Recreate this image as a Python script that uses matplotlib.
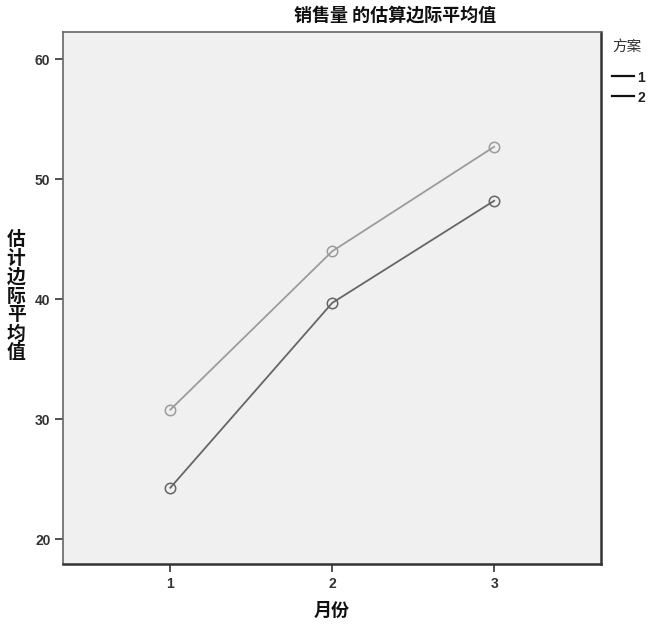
import matplotlib
matplotlib.use("Agg")
import matplotlib.pyplot as plt
from matplotlib.lines import Line2D

months = [1, 2, 3]
plan1 = [24.3, 39.7, 48.2]
plan2 = [30.8, 44.0, 52.7]
series_labels = ["1", "2"]
yticks = [20, 30, 40, 50, 60]

cjk = ["Noto Sans CJK SC", "DejaVu Sans"]
num = ["Liberation Sans", "DejaVu Sans"]

W, H = 650, 627
fig = plt.figure(figsize=(W / 100, H / 100), dpi=100)
fig.patch.set_facecolor("white")
ax = fig.add_axes([63 / W, 1 - 564 / H, (601 - 63) / W, (564 - 31.5) / H])
ax.set_facecolor("#f0f0f0")

c1, c2 = "#666666", "#9c9c9c"
ax.plot(months, plan1, color=c1, lw=1.3, marker="o", ms=7.5, mfc="none", mec=c1, mew=1.1)
ax.plot(months, plan2, color=c2, lw=1.3, marker="o", ms=7.5, mfc="none", mec=c2, mew=1.1)

ax.set_xlim(0.337, 3.66)
ax.set_ylim(17.95, 62.3)
ax.set_xticks(months)
ax.set_xticklabels([str(m) for m in months], family=num, fontsize=10, fontweight="bold", color="#333333")
ax.set_yticks(yticks)
ax.set_yticklabels([str(v) for v in yticks], family=num, fontsize=10, fontweight="bold", color="#333333")
ax.tick_params(length=6, width=1.2, color="#333333", pad=3)

for s in ["left", "top"]:
    ax.spines[s].set_color("#666666")
    ax.spines[s].set_linewidth(1.2)
for s in ["right", "bottom"]:
    ax.spines[s].set_color("#333333")
    ax.spines[s].set_linewidth(1.8)

fig.text(395 / W, 1 - 15 / H, "销售量 的估算边际平均值", family=cjk, fontsize=13,
         fontweight="bold", ha="center", va="center", color="#111111")
fig.text(332 / W, 1 - 610 / H, "月份", family=cjk, fontsize=13,
         fontweight="bold", ha="center", va="center", color="#111111")
fig.text(16 / W, 1 - 296 / H, "\n".join("估计边际平均值"), family=cjk, fontsize=13.5,
         fontweight="bold", ha="center", va="center", color="#111111", linespacing=1.0)

# legend
fig.text(612 / W, 1 - 47 / H, "方案", family=cjk, fontsize=10.5,
         ha="left", va="center", color="#333333")
for yy, lab in zip([76, 96], series_labels):
    fig.add_artist(Line2D([612 / W, 634 / W], [1 - yy / H, 1 - yy / H], color="#111111", lw=1.6))
    fig.text(637 / W, 1 - (yy + 2) / H, lab, family=num, fontsize=10, fontweight="bold",
             ha="left", va="center", color="#222222")

fig.savefig("out.png", dpi=100)
